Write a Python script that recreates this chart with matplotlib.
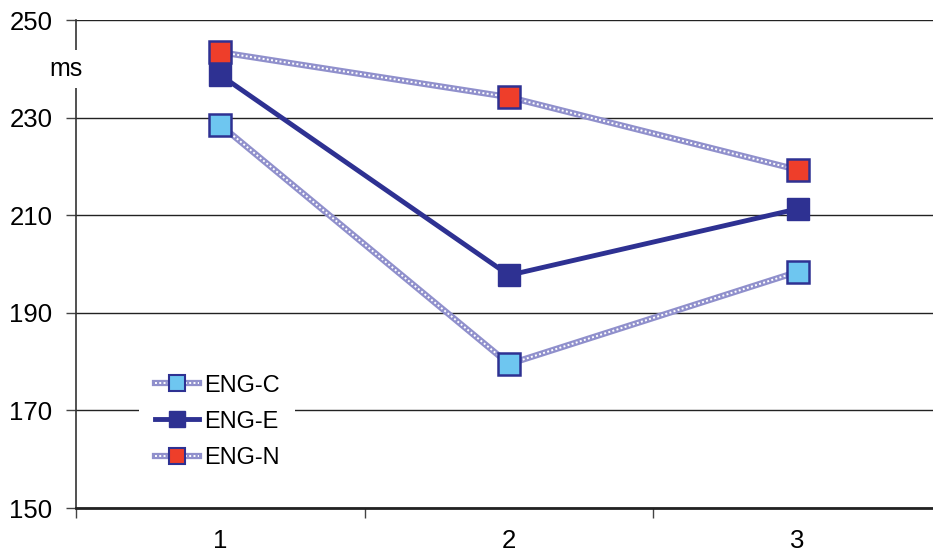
import matplotlib.pyplot as plt
from matplotlib.lines import Line2D
import numpy as np

plt.rcParams['font.family'] = ['Liberation Sans', 'DejaVu Sans']

# data
conditions = [1, 2, 3]
eng_c = [228.5, 179.5, 198.4]
eng_e = [238.7, 197.7, 211.3]
eng_n = [243.4, 234.2, 219.3]

navy = '#2e3192'
light = '#6ec6f0'
red = '#ee3e2a'
hatch = '#9090cc'

fig = plt.figure(figsize=(9.33, 5.53), dpi=100)
ax = fig.add_axes([76/933, 45/553, 866/933, 488/553])

x = np.array(conditions)

def textured(yv, face):
    # light chain-like line: thick lavender with white dots on top
    ax.plot(x, yv, color=hatch, lw=4.5, solid_capstyle='butt', zorder=3)
    ax.plot(x, yv, color='white', lw=1.4, ls=(0, (1, 1.2)), zorder=3.1)
    ax.plot(x, yv, ls='none', marker='s', ms=16, mfc=face, mec=navy, mew=1.8, zorder=5)

textured(eng_c, light)
ax.plot(x, eng_e, color=navy, lw=3.5, marker='s', ms=16, mfc=navy, mec=navy, zorder=4)
textured(eng_n, red)

ax.set_xlim(0.5, 3.5)
ax.set_ylim(150, 250)
ax.set_yticks([150, 170, 190, 210, 230, 250])
ax.yaxis.grid(True, color='#222222', lw=1)
ax.set_axisbelow(True)

ax.set_xticks(conditions)
ax.set_xticks([0.5, 1.5, 2.5, 3.5], minor=True)
ax.tick_params(axis='x', which='major', length=0, pad=15, labelsize=18.5)
ax.tick_params(axis='x', which='minor', length=7, width=1, color='#444444', direction='out')
ax.tick_params(axis='y', length=7, width=1, color='#444444', labelsize=18.5, pad=10)

for s in ['top', 'right']:
    ax.spines[s].set_visible(False)
ax.spines['left'].set_color('#333333')
ax.spines['left'].set_linewidth(1.2)
ax.spines['bottom'].set_color('#222222')
ax.spines['bottom'].set_linewidth(2)

ax.text(-0.012, 0.9, 'ms', transform=ax.transAxes, fontsize=18, ha='center', va='center',
        bbox=dict(facecolor='white', edgecolor='none', pad=5), clip_on=False, zorder=6)

def chain_handle(face):
    return (Line2D([], [], color=hatch, lw=4.5),
            Line2D([], [], color='white', lw=1.4, ls=(0, (1, 1.2))),
            Line2D([], [], ls='none', marker='s', ms=12, mfc=face, mec=navy, mew=1.5))

h_e = Line2D([], [], color=navy, lw=3.5, marker='s', ms=12, mfc=navy, mec=navy)
leg = ax.legend([chain_handle(light), h_e, chain_handle(red)], ['ENG-C', 'ENG-E', 'ENG-N'],
                loc='upper left', bbox_to_anchor=(0.073, 0.305), frameon=True, fontsize=17,
                handlelength=1.9, handletextpad=0.2, labelspacing=0.6, borderpad=0.65,
                borderaxespad=0)
leg.get_frame().set_edgecolor('none')
leg.get_frame().set_facecolor('white')
leg.get_frame().set_alpha(1)

fig.savefig('out.png', dpi=100)
